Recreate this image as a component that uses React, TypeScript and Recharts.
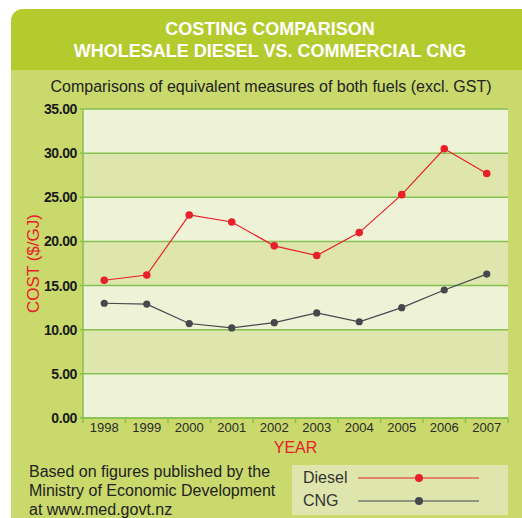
import { LineChart, Line, XAxis, YAxis, CartesianGrid, Legend } from "recharts";

const years = ["1998", "1999", "2000", "2001", "2002", "2003", "2004", "2005", "2006", "2007"];
const diesel = [15.6, 16.2, 23.0, 22.2, 19.5, 18.4, 21.0, 25.3, 30.5, 27.7];
const cng = [13.0, 12.9, 10.7, 10.2, 10.8, 11.9, 10.9, 12.5, 14.5, 16.3];
const yTicks = [0, 5, 10, 15, 20, 25, 30, 35];
const legendOrder = ["Diesel", "CNG"];

const data = years.map((year, i) => ({ year, Diesel: diesel[i], CNG: cng[i] }));

const FONT = '"Liberation Sans", Arial, Helvetica, sans-serif';
const RED = "#e8202a";
const DARK = "#45494d";
const GRID = "#86c04f";
const LIGHT = "#eef2d6";
const BAND = "#dfe6ad";

const XTick = (props: any) => {
  const { x, y, payload, index } = props;
  const half = payload.offset || 21.25;
  const top = y - 8;
  return (
    <g>
      <line x1={x - half} x2={x - half} y1={top} y2={top + 5} stroke={GRID} strokeWidth={1.5} />
      {index === years.length - 1 && (
        <line x1={x + half} x2={x + half} y1={top} y2={top + 5} stroke={GRID} strokeWidth={1.5} />
      )}
      <text x={x} y={top + 14} textAnchor="middle" fontSize={13} fill="#2b2b2b" fontFamily={FONT}>
        {payload.value}
      </text>
    </g>
  );
};

const YLabel = (props: any) => {
  const { viewBox } = props;
  const cx = viewBox.x + 10;
  const cy = viewBox.y + viewBox.height / 2;
  return (
    <text x={cx} y={cy} transform={`rotate(-90 ${cx} ${cy})`} textAnchor="middle" dominantBaseline="central"
      fontSize={17} fill={RED} fontFamily={FONT}>
      COST ($/GJ)
    </text>
  );
};

const XLabel = (props: any) => {
  const { viewBox } = props;
  return (
    <text x={viewBox.x + viewBox.width / 2} y={viewBox.y + 35} textAnchor="middle"
      fontSize={16} fill={RED} fontFamily={FONT}>
      YEAR
    </text>
  );
};

const LegendBox = (props: any) => {
  const items = [...(props.payload || [])].sort(
    (a: any, b: any) => legendOrder.indexOf(a.value) - legendOrder.indexOf(b.value)
  );
  return (
    <div style={{ position: "relative", width: 216, height: 50, background: BAND, fontFamily: FONT }}>
      {items.map((it: any, i: number) => (
        <div key={it.value} style={{ position: "absolute", left: 0, top: 3 + i * 23, height: 20, width: 216 }}>
          <span style={{ position: "absolute", left: 11, top: 1, fontSize: 16, color: "#333", lineHeight: "18px" }}>{it.value}</span>
          <svg width={216} height={20} style={{ position: "absolute", left: 0, top: 0 }}>
            <line x1={66} x2={187} y1={10} y2={10} stroke={it.color} strokeWidth={1.2} />
            <circle cx={127} cy={10} r={4} fill={it.color} />
          </svg>
        </div>
      ))}
    </div>
  );
};

export default function App() {
  return (
    <div style={{ position: "absolute", left: 0, top: 0, width: 522, height: 518, background: "#fff", overflow: "hidden", fontFamily: FONT }}>
      <div style={{ position: "absolute", left: 11, top: 9, width: 530, height: 520, background: "#c9d96c", borderTopLeftRadius: 12, overflow: "hidden" }}>
        <div style={{ position: "absolute", left: 0, top: 0, width: 530, height: 61, background: "#b4cb2d" }} />
      </div>
      <div style={{ position: "absolute", left: 11, top: 18, width: 518, textAlign: "center", color: "#fff", fontWeight: "bold", fontSize: 18, lineHeight: "22px" }}>
        COSTING COMPARISON<br />WHOLESALE DIESEL VS. COMMERCIAL CNG
      </div>
      <div style={{ position: "absolute", left: 11, top: 78, width: 520, textAlign: "center", color: "#222", fontSize: 16 }}>
        Comparisons of equivalent measures of both fuels (excl. GST)
      </div>
      <div style={{ position: "absolute", left: 29, top: 462, color: "#222", fontSize: 16, lineHeight: "19px" }}>
        Based on figures published by the<br />Ministry of Economic Development<br />at www.med.govt.nz
      </div>
      <div style={{ position: "absolute", left: 0, top: 0 }}>
        <LineChart width={522} height={518} data={data} margin={{ top: 109, right: 14, bottom: 60, left: 23 }}>
          <CartesianGrid vertical={false} stroke={GRID} strokeWidth={1.5} horizontalFill={[LIGHT, BAND]} fillOpacity={1} />
          <XAxis dataKey="year" scale="band" height={40} tickLine={false} axisLine={{ stroke: GRID, strokeWidth: 1.5 }}
            tick={<XTick />} interval={0} label={<XLabel />} />
          <YAxis width={60} domain={[0, 35]} ticks={yTicks} tickFormatter={(v: number) => v.toFixed(2)}
            axisLine={{ stroke: GRID, strokeWidth: 1.5 }} tickLine={{ stroke: GRID, strokeWidth: 1.5 }} tickSize={3} tickMargin={3}
            tick={{ fontSize: 14, fill: "#1a1a1a", fontFamily: FONT, fontWeight: "bold", letterSpacing: -0.4 }} label={<YLabel />} />
          <Legend layout="vertical" align="center" verticalAlign="middle" content={<LegendBox />}
            wrapperStyle={{ left: 292, top: 465, width: 216, height: 50 }} />
          <Line type="linear" dataKey="Diesel" stroke={RED} strokeWidth={1.2} isAnimationActive={false}
            dot={{ r: 3.8, fill: RED, stroke: RED, strokeWidth: 0 }} />
          <Line type="linear" dataKey="CNG" stroke={DARK} strokeWidth={1.2} isAnimationActive={false}
            dot={{ r: 3.6, fill: DARK, stroke: DARK, strokeWidth: 0 }} />
        </LineChart>
      </div>
    </div>
  );
}
